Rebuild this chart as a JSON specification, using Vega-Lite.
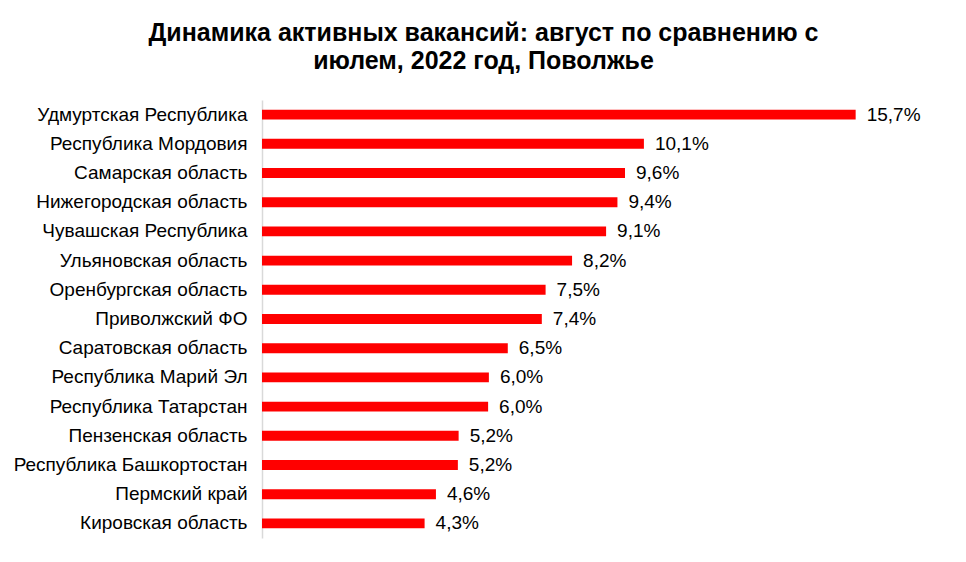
{
  "$schema": "https://vega.github.io/schema/vega-lite/v6.json",
  "autosize": {"type": "none"},
  "padding": {"left": 262, "top": 100, "right": 99, "bottom": 24},
  "width": 605,
  "height": 438,
  "background": "white",
  "title": {
    "text": ["Динамика активных вакансий: август по сравнению с", "июлем, 2022 год, Поволжье"],
    "font": "Liberation Sans",
    "fontSize": 25,
    "fontWeight": "bold",
    "color": "#000000",
    "anchor": "middle",
    "dx": -81,
    "offset": 26,
    "lineHeight": 28
  },
  "data": {
    "values": [
      {"region": "Удмуртская Республика", "value": 0.157},
      {"region": "Республика Мордовия", "value": 0.101},
      {"region": "Самарская область", "value": 0.096},
      {"region": "Нижегородская область", "value": 0.094},
      {"region": "Чувашская Республика", "value": 0.091},
      {"region": "Ульяновская область", "value": 0.082},
      {"region": "Оренбургская область", "value": 0.075},
      {"region": "Приволжский ФО", "value": 0.074},
      {"region": "Саратовская область", "value": 0.065},
      {"region": "Республика Марий Эл", "value": 0.060},
      {"region": "Республика Татарстан", "value": 0.0598},
      {"region": "Пензенская область", "value": 0.052},
      {"region": "Республика Башкортостан", "value": 0.0518},
      {"region": "Пермский край", "value": 0.046},
      {"region": "Кировская область", "value": 0.043}
    ]
  },
  "encoding": {
    "y": {
      "field": "region",
      "type": "nominal",
      "sort": null,
      "scale": {"paddingInner": 0.66, "paddingOuter": 0.33},
      "axis": {
        "title": null,
        "ticks": false,
        "grid": false,
        "domain": true,
        "domainColor": "#d9d9d9",
        "domainWidth": 1.5,
        "labelFont": "Liberation Sans",
        "labelFontSize": 19,
        "labelColor": "#000000",
        "labelPadding": 15,
        "labelLimit": 400
      }
    },
    "x": {
      "field": "value",
      "type": "quantitative",
      "scale": {"domain": [0, 0.16], "nice": false},
      "axis": null
    }
  },
  "layer": [
    {"mark": {"type": "bar", "color": "#ff0000"}},
    {
      "mark": {"type": "text", "align": "left", "baseline": "middle", "dx": 11, "font": "Liberation Sans", "fontSize": 19, "color": "#000000"},
      "encoding": {"text": {"field": "value", "type": "quantitative", "format": ".1%"}}
    }
  ],
  "config": {
    "view": {"stroke": null},
    "locale": {"number": {"decimal": ",", "thousands": " ", "grouping": [3], "currency": ["", " ₽"]}}
  }
}
